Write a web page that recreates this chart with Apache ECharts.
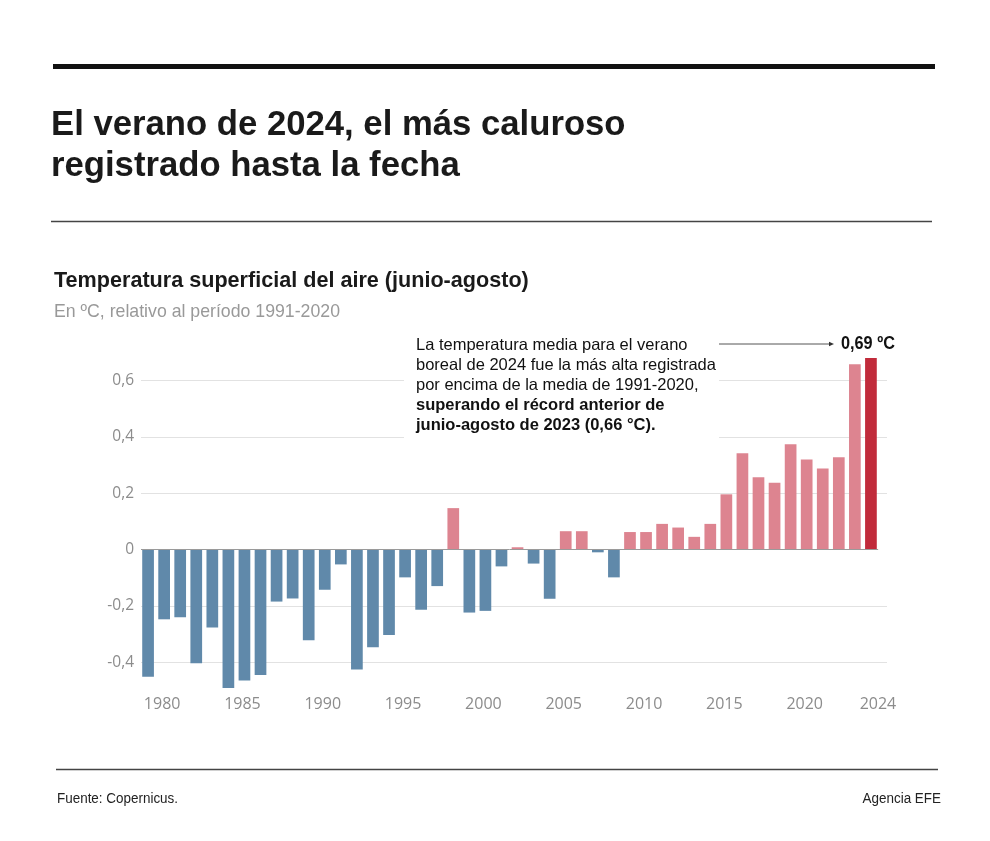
<!DOCTYPE html>
<html>
<head>
<meta charset="utf-8">
<style>
html,body{margin:0;padding:0;background:#fff;}
#chart{width:990px;height:841px;}
</style>
<script src="https://cdn.jsdelivr.net/npm/echarts@6/dist/echarts.min.js"></script>
</head>
<body>
<div id="chart"></div>
<script>
var years=[1979,1980,1981,1982,1983,1984,1985,1986,1987,1988,1989,1990,1991,1992,1993,1994,1995,1996,1997,1998,1999,2000,2001,2002,2003,2004,2005,2006,2007,2008,2009,2010,2011,2012,2013,2014,2015,2016,2017,2018,2019,2020,2021,2022,2023,2024];
var anomalies=[-0.452,-0.248,-0.241,-0.404,-0.277,-0.492,-0.465,-0.446,-0.185,-0.174,-0.322,-0.143,-0.053,-0.426,-0.347,-0.304,-0.099,-0.214,-0.13,0.147,-0.224,-0.218,-0.06,0.008,-0.05,-0.175,0.065,0.065,-0.01,-0.099,0.062,0.062,0.091,0.078,0.045,0.091,0.196,0.342,0.257,0.237,0.374,0.32,0.288,0.328,0.658,0.68];
var yearLabels=[1980,1985,1990,1995,2000,2005,2010,2015,2020,2024];
var valueLabels=[-0.4,-0.2,0,0.2,0.4,0.6];
var gridValues=[-0.4,-0.2,0.2,0.4,0.6];
var noteLines=[
	["La temperatura media para el verano",false],
	["boreal de 2024 fue la más alta registrada",false],
	["por encima de la media de 1991-2020,",false],
	["superando el récord anterior de",true],
	["junio-agosto de 2023 (0,66 °C).",true]
];

var SANS='"Liberation Sans",Arial,sans-serif';
var TICKS='"Open Sans",sans-serif';
var BLUE='#6089aa',PINK='#dd8490',RED='#c12b3b';

function barColor(year,val){
	if(year==2024) return RED;
	return val<0?BLUE:PINK;
}
var barData=[];
for(var i=0;i<years.length;i++){
	barData.push({value:[years[i],anomalies[i]],itemStyle:{color:barColor(years[i],anomalies[i])}});
}

function txt(x,y,s,size,color,weight,align,sx){
	return {type:'text',x:x,y:y,z:20,scaleX:sx||1,style:{text:s,font:(weight||'normal')+' '+size+'px '+SANS,fill:color,textAlign:align||'left',textVerticalAlign:'middle'}};
}
function rule(x1,x2,y,w,color){
	return {type:'line',z:20,shape:{x1:x1,y1:y,x2:x2,y2:y},style:{stroke:color,lineWidth:w}};
}

var graphics=[
	rule(53,935,66.5,5,'#111'),
	txt(51,125,'El verano de 2024, el más caluroso',34.7,'#1a1a1a','bold'),
	txt(51,166,'registrado hasta la fecha',34.7,'#1a1a1a','bold'),
	rule(51,932,221.5,1.5,'#444'),
	txt(54,281,'Temperatura superficial del aire (junio-agosto)',21.6,'#1a1a1a','bold'),
	txt(54,311.5,'En ºC, relativo al período 1991-2020',18.5,'#999','normal','left',0.957),
	// caja blanca que corta las lineas detras de la nota
	{type:'rect',z:10,shape:{x:404,y:336,width:315,height:108},style:{fill:'#fff'}},
	rule(719,829,344,1,'#555'),
	{type:'polygon',z:20,shape:{points:[[829,341.8],[834,344],[829,346.2]]},style:{fill:'#333'}},
	txt(841,344,'0,69 ºC',17.5,'#111','bold','left',0.93),
	rule(56,938,769.5,1.5,'#444'),
	txt(57,799,'Fuente: Copernicus.',14,'#222','normal','left',0.96),
	txt(941,799,'Agencia EFE',14,'#222','normal','right',0.96)
];
for(var n=0;n<noteLines.length;n++){
	graphics.push(txt(416,345+n*20.1,noteLines[n][0],16.5,'#111',noteLines[n][1]?'bold':'normal'));
}

var myChart=echarts.init(document.getElementById('chart'));
var option={
	backgroundColor:'#fff',
	animation:false,
	grid:{left:141,right:103,top:324.3,height:394.1},
	xAxis:{
		type:'value',
		min:1978.56,
		max:2025,
		splitLine:{show:false},
		axisLine:{show:false,onZero:false},
		axisTick:{show:false},
		axisLabel:{
			customValues:yearLabels,
			margin:-21.5,
			color:'#8c8c8c',
			fontFamily:TICKS,
			fontSize:16,
			formatter:function(v){ return v==2024?'{b|2024}':'{a|'+v+'}'; },
			rich:{
				a:{padding:[0,4,0,0],color:'#8c8c8c',fontFamily:TICKS,fontSize:16},
				b:{padding:[0,0,0,14],color:'#8c8c8c',fontFamily:TICKS,fontSize:16}
			}
		}
	},
	yAxis:{
		type:'value',
		min:-0.6,
		max:0.8,
		axisLine:{show:false},
		axisTick:{show:false,customValues:gridValues},
		splitLine:{show:true,lineStyle:{color:'#e2e2e2',width:1}},
		axisLabel:{
			customValues:valueLabels,
			margin:7,
			color:'#8c8c8c',
			fontFamily:TICKS,
			fontSize:15.5,
			formatter:function(v){ return String(Math.round(v*10)/10).replace('.',','); }
		}
	},
	series:[{
		type:'bar',
		barWidth:11.7,
		z:15,
		data:barData,
		markLine:{
			silent:true,
			symbol:'none',
			z:16,
			label:{show:false},
			lineStyle:{color:'#9a9a9a',width:1,type:'solid'},
			data:[[{coord:[1978.56,0]},{coord:[2024.45,0]}]]
		}
	}],
	graphic:graphics
};
myChart.setOption(option);
</script>
</body>
</html>
